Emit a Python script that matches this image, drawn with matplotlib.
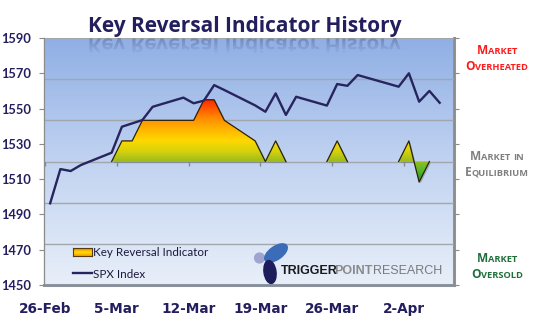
import matplotlib
import matplotlib.pyplot as plt
import matplotlib.dates as mdates
import matplotlib.transforms as mtransforms
import numpy as np
from matplotlib import font_manager
from matplotlib.colors import LinearSegmentedColormap, to_rgb
from matplotlib.font_manager import FontProperties
from matplotlib.offsetbox import AnnotationBbox, HPacker, TextArea
from matplotlib.patches import Ellipse, Circle, PathPatch, Polygon
from matplotlib.textpath import TextPath

matplotlib.use('Agg')

# Trading days shown, SPX closes and the key reversal reading for each day.
trade_days = ['2013-02-26', '2013-02-27', '2013-02-28', '2013-03-01',
              '2013-03-04', '2013-03-05', '2013-03-06', '2013-03-07', '2013-03-08',
              '2013-03-11', '2013-03-12', '2013-03-13', '2013-03-14', '2013-03-15',
              '2013-03-18', '2013-03-19', '2013-03-20', '2013-03-21', '2013-03-22',
              '2013-03-25', '2013-03-26', '2013-03-27', '2013-03-28',
              '2013-04-01', '2013-04-02', '2013-04-03', '2013-04-04', '2013-04-05']
spx_close = [1496.3, 1515.7, 1514.6, 1518.0,
             1525.0, 1539.7, 1541.6, 1543.5, 1551.0,
             1556.2, 1553.0, 1554.5, 1563.3, 1560.5,
             1551.8, 1548.2, 1558.6, 1546.4, 1556.7,
             1551.7, 1563.9, 1562.9, 1569.0,
             1562.4, 1570.0, 1553.9, 1560.0, 1553.3]
key_reversal = [0, 0, 0, 0,
                0, 0.5, 0.5, 1.0, 1.0,
                1.0, 1.0, 1.5, 1.5, 1.0,
                0.5, 0, 0.5, 0, 0,
                0, 0.5, 0, 0,
                0, 0.5, -0.5, 0, 0]

tick_days = ['2013-02-26', '2013-03-05', '2013-03-12', '2013-03-19', '2013-03-26', '2013-04-02']
tick_labels = ['26-Feb', '5-Mar', '12-Mar', '19-Mar', '26-Mar', '2-Apr']
spx_ticks = [1450, 1470, 1490, 1510, 1530, 1550, 1570, 1590]

title = 'Key Reversal Indicator History'
zone_lines = [['Market', 'Overheated'], ['Market in', 'Equilibrium'], ['Market', 'Oversold']]
zone_colors = ['#ff1a1a', '#808080', '#1f6f3a']

NAVY = '#231f5e'
W, H = 535, 327


def to_num(days):
    return mdates.date2num(np.array(days, dtype='datetime64[D]'))


def pick_font(name, fallback):
    try:
        font_manager.findfont(name, fallback_to_default=False)
        return name
    except ValueError:
        return fallback


def small_caps(line, color, big, small):
    # first letter of each word full size, the rest as smaller capitals
    props_big = dict(size=big, family='Open Sans', weight='bold', color=color)
    props_small = dict(size=small, family='Open Sans', weight='bold', color=color)
    parts = []
    for i, word in enumerate(line.split(' ')):
        if i > 0:
            parts.append(TextArea(' ', textprops=props_small))
        if word[0].isupper():
            parts.append(TextArea(word[0], textprops=props_big))
            rest = word[1:]
        else:
            rest = word
        if rest:
            parts.append(TextArea(rest.upper(), textprops=props_small))
    return HPacker(children=parts, align='baseline', pad=0, sep=0)


fig = plt.figure(figsize=(W / 100, H / 100), dpi=100)
fig.patch.set_facecolor('white')

# plot area in pixels: left 44, right 454, top 38, bottom 285
rect = [44 / W, (H - 285) / H, 410 / W, 247 / H]
t0 = to_num(['2013-02-26'])[0]
xmin, xmax = t0 - 0.1, t0 + 39.9

x = to_num(trade_days) + 0.5
kr = np.array(key_reversal, dtype=float)

# background with a vertical blue fade
bg = fig.add_axes(rect, zorder=0)
bg_cmap = LinearSegmentedColormap.from_list('bg', ['#e8eff9', '#c1d3f1', '#90afe5'])
bg.imshow(np.linspace(0, 1, 256).reshape(-1, 1), cmap=bg_cmap, origin='lower',
          extent=[0, 1, 0, 1], aspect='auto', interpolation='bilinear')
bg.set_xlim(0, 1)
bg.set_ylim(0, 1)
bg.set_xticks([])
bg.set_yticks([])
bg.spines['top'].set_color('#dfe8f6')
bg.spines['left'].set_color('#c9d6ea')
bg.spines['right'].set_color('#8d96a4')
bg.spines['bottom'].set_color('#8d96a4')
bg.spines['right'].set_linewidth(2.2)
bg.spines['bottom'].set_linewidth(2.2)

# indicator axes: -3..3 with gridlines every unit
ind = fig.add_axes(rect, zorder=1)
ind.patch.set_visible(False)
lo, hi = -0.55, 1.55
stops = [(-0.55, '#1c8a1c'), (-0.2, '#5cba2a'), (0.0, '#9cbc1c'), (0.25, '#d8d20c'),
         (0.5, '#ffd800'), (0.8, '#ffb000'), (1.05, '#ff8a00'), (1.3, '#ff5200'), (1.55, '#ff1800')]
kr_cmap = LinearSegmentedColormap.from_list('kri', [((v - lo) / (hi - lo), c) for v, c in stops])

verts = [(x[0], 0)] + list(zip(x, kr)) + [(x[-1], 0)]
shadow = Polygon(verts, closed=True, fc='#5a6070', ec='none', alpha=0.35, zorder=1.5,
                 transform=ind.transData + mtransforms.ScaledTranslation(1.5 / 100, -1.5 / 100, fig.dpi_scale_trans))
ind.add_patch(shadow)
area = Polygon(verts, closed=True, fc='none', ec='none', transform=ind.transData)
ind.add_patch(area)
img = ind.imshow(np.linspace(0, 1, 256).reshape(-1, 1), cmap=kr_cmap, origin='lower',
                 extent=[xmin, xmax, lo, hi], aspect='auto', interpolation='bilinear', zorder=2)
img.set_clip_path(area)

# outline only around the non-zero stretches
nz = kr != 0
keep = nz.copy()
keep[1:] |= nz[:-1]
keep[:-1] |= nz[1:]
ind.plot(x, np.where(keep, kr, np.nan), color='#2a2205', lw=0.9, zorder=3)

ind.plot(to_num(tick_days), np.zeros(len(tick_days)), ls='none', marker=3, ms=3,
         mew=1, color='#8a8a8a', zorder=1)
ind.set_xlim(xmin, xmax)
ind.set_ylim(-3, 3)
ind.set_yticks(range(-3, 4))
ind.grid(axis='y', color='#a2a6ad', lw=1)
ind.set_axisbelow(True)
ind.tick_params(left=False, bottom=False, labelleft=False, labelbottom=False)
for s in ind.spines.values():
    s.set_visible(False)

# SPX axes on top
spx = fig.add_axes(rect, zorder=2)
spx.patch.set_visible(False)
spx.plot(x, spx_close, color='#27245e', lw=1.7, zorder=3)
spx.set_xlim(xmin, xmax)
spx.set_ylim(1450, 1590)
spx.set_yticks(spx_ticks)
spx.set_yticklabels([str(v) for v in spx_ticks], fontsize=9.3, family='Lato',
                    weight='bold', color=NAVY)
spx.set_xticks(to_num(tick_days))
spx.set_xticklabels(tick_labels, fontsize=9.8, family='DejaVu Sans', weight='bold', color=NAVY)
spx.tick_params(axis='x', length=0, pad=12)
spx.tick_params(axis='y', left=True, right=True, direction='out', length=3.5,
                width=0.8, color='#8a8a8a', pad=6)
spx.spines['top'].set_visible(False)
for side in ['left', 'right', 'bottom']:
    spx.spines[side].set_color('#8c8c8c')
    spx.spines[side].set_linewidth(0.9)

# overlay in pixel coordinates for title reflection, legend, logo and zone notes
ov = fig.add_axes([0, 0, 1, 1], zorder=5)
ov.axis('off')
ov.patch.set_visible(False)

title_font = 'Open Sans'
title_size = 15
title_cx = 245
fig.text(title_cx / W, 1 - 31.7 / H, title, ha='center', va='baseline', fontsize=title_size,
         family=title_font, weight='bold', color=NAVY)

# faded mirror image of the title just inside the plot top
tp = TextPath((0, 0), title, size=title_size * 100 / 72,
              prop=FontProperties(family=title_font, weight='bold'))
ext = tp.get_extents()
tx0 = title_cx - (ext.x0 + ext.x1) / 2
refl = PathPatch(tp, fc='none', ec='none',
                 transform=mtransforms.Affine2D().scale(1, 0.95).translate(tx0, 38.5) + ov.transData)
ov.add_patch(refl)
fade = np.zeros((64, 1, 4))
fade[..., :3] = to_rgb('#3b4676')
fade[:, 0, 3] = np.linspace(0.36, 0.0, 64)
rimg = ov.imshow(fade, extent=[tx0 - 5, tx0 + ext.x1 + 5, 55, 38.5], aspect='auto',
                 interpolation='bilinear', zorder=1)
rimg.set_clip_path(refl)
ov.set_xlim(0, W)
ov.set_ylim(H, 0)

# legend
sw = fig.add_axes([73 / W, 1 - 256 / H, 19 / W, 8 / H], zorder=6)
sw.imshow(np.linspace(0, 1, 32).reshape(-1, 1), aspect='auto',
          cmap=LinearSegmentedColormap.from_list('sw', ['#f07010', '#ffe000', '#f8a000']))
sw.set_xticks([])
sw.set_yticks([])
for s in sw.spines.values():
    s.set_color('#5a3a10')
    s.set_linewidth(0.8)
ov.text(93, 256.5, 'Key Reversal Indicator', fontsize=8.4, family='Lato', color='#1c1a3c', va='baseline')
ov.plot([73, 92], [272.5, 272.5], color='#27245e', lw=1.7)
ov.text(93, 277.5, 'SPX Index', fontsize=8.4, family='Lato', color='#1c1a3c', va='baseline')

# logo
ov.add_patch(Circle((259.5, 258), 4.9, color='#a0a4cf', zorder=2))
ov.add_patch(Ellipse((276, 253), 26, 13, angle=-35, color='#3a6cb8', zorder=2))
ov.add_patch(Ellipse((270, 272), 12, 23, angle=-8, color='#1e1d5c', zorder=3))
logo_font = pick_font('Liberation Sans Narrow', 'Liberation Sans')
scale = 1.0 if logo_font == 'Liberation Sans Narrow' else 0.9
trigger_point = HPacker(children=[
    TextArea('TRIGGER', textprops=dict(size=10 * scale, family=logo_font, weight='bold', color='#1a1a1a')),
    TextArea('POINT', textprops=dict(size=10 * scale, family=logo_font, weight='bold', color='#8a8a8a')),
], align='baseline', pad=0, sep=-2.5)
logo = HPacker(children=[
    trigger_point,
    TextArea('RESEARCH', textprops=dict(size=10 * scale, family=logo_font, color='#7a7a7a')),
], align='baseline', pad=0, sep=0)
ov.add_artist(AnnotationBbox(logo, (281, 271), xycoords='data', frameon=False,
                             box_alignment=(0, 0.5), pad=0))

# market zone notes on the right
zone_y = [(50, 66), (156, 172), (259, 275)]
for lines, color, ys in zip(zone_lines, zone_colors, zone_y):
    for line, y in zip(lines, ys):
        box = small_caps(line, color, 8.6, 6.7)
        ov.add_artist(AnnotationBbox(box, (497, y), xycoords='data', frameon=False,
                                     box_alignment=(0.5, 0.5), pad=0))

fig.savefig('out.png', dpi=100)
